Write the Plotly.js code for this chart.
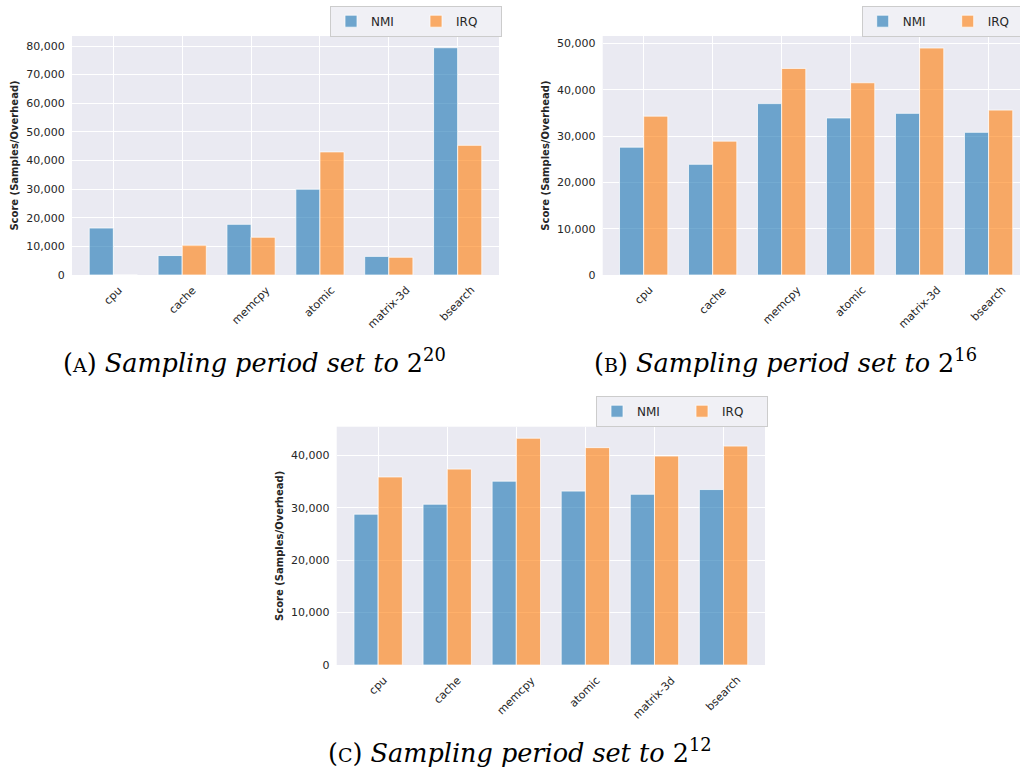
<!DOCTYPE html>
<html><head><meta charset="utf-8">
<script src="https://cdn.plot.ly/plotly-3.0.1.min.js"></script>
<style>body{margin:0;background:#fff;} #chart{width:1020px;height:770px;}</style>
</head><body><div id="chart"></div>
<script>
const categories = ['cpu', 'cache', 'memcpy', 'atomic', 'matrix-3d', 'bsearch'];
const seriesNames = ['NMI', 'IRQ'];
const nmiA = [16400, 6800, 17700, 30000, 6500, 79400];
const irqA = [0, 10400, 13200, 43000, 6200, 45300];
const nmiB = [27600, 23900, 37000, 33900, 34900, 30800];
const irqB = [34300, 28900, 44600, 41500, 49000, 35600];
const nmiC = [28800, 30700, 35100, 33200, 32600, 33500];
const irqC = [35900, 37400, 43300, 41500, 39900, 41800];
const yTitle = 'Score (Samples/Overhead)';
const captionLetters = ['A', 'B', 'C'];
const captionExps = ['20', '16', '12'];

const W = 1020, H = 770;
const px = x => x / W;
const py = y => 1 - y / H;
const colors = ['rgba(31,119,180,0.62)', 'rgba(255,127,14,0.62)'];
const tickFont = {family: 'DejaVu Sans', size: 11, color: '#262626'};

const panels = [
  {nmi: nmiA, irq: irqA, xs: '', x: [72, 499], y: [36, 275], xr: [-0.6, 5.6], yr: [0, 83500], leg: 'legend', legBox: [330, 5.7]},
  {nmi: nmiB, irq: irqB, xs: '2', x: [602.7, 1020], y: [36, 275], xr: [-0.594, 5.455], yr: [0, 51600], leg: 'legend2', legBox: [861.7, 5.7]},
  {nmi: nmiC, irq: irqC, xs: '3', x: [336.7, 765], y: [426.7, 665], xr: [-0.6, 5.6], yr: [0, 45500], leg: 'legend3', legBox: [596, 395.7]}
];
const captionPos = [[254, 361], [785, 361], [520, 751]];

const traces = [];
const layout = {
  width: W, height: H,
  margin: {l: 0, r: 0, t: 0, b: 0, autoexpand: false},
  paper_bgcolor: '#ffffff',
  plot_bgcolor: '#EAEAF2',
  barmode: 'group', bargap: 0.3, bargroupgap: 0,
  showlegend: true,
  annotations: []
};

panels.forEach((p, i) => {
  const xa = 'x' + p.xs, ya = 'y' + p.xs;
  [p.nmi, p.irq].forEach((vals, k) => {
    traces.push({
      type: 'bar', x: categories, y: vals, name: seriesNames[k],
      xaxis: xa, yaxis: ya, legend: p.leg,
      marker: {color: colors[k], line: {color: 'rgba(255,255,255,0.9)', width: 0.8}},
      hoverinfo: 'x+y'
    });
  });
  layout['xaxis' + p.xs] = {
    domain: [px(p.x[0]), px(p.x[1])], anchor: ya, type: 'category',
    range: p.xr, showgrid: true, gridcolor: '#ffffff', gridwidth: 1.2,
    showticklabels: false, ticks: '', zeroline: false, showline: false
  };
  layout['yaxis' + p.xs] = {
    domain: [py(p.y[1]), py(p.y[0])], anchor: xa,
    range: p.yr, dtick: 10000, tickformat: ',d',
    showgrid: true, gridcolor: '#ffffff', gridwidth: 1.2,
    zeroline: false, showline: false,
    ticks: 'outside', ticklen: 4, tickcolor: 'rgba(0,0,0,0)',
    tickfont: tickFont,
    title: {text: yTitle, standoff: 5, font: {family: 'DejaVu Sans', size: 10, color: '#262626', weight: 'bold'}}
  };
  layout[p.leg] = {
    orientation: 'h', x: px(p.legBox[0]), xanchor: 'left', y: py(p.legBox[1]), yanchor: 'top',
    bgcolor: '#F0F0F5', bordercolor: '#CCCCCC', borderwidth: 1,
    font: {family: 'DejaVu Sans', size: 12, color: '#262626'},
    entrywidth: 40, traceorder: 'normal'
  };
  categories.forEach(c => {
    layout.annotations.push({
      x: c, xref: xa, y: 0, yref: ya + ' domain', yshift: -6,
      xanchor: 'center', yanchor: 'top', textangle: -45, showarrow: false,
      text: c, font: tickFont
    });
  });
  layout.annotations.push({
    x: px(captionPos[i][0]), y: py(captionPos[i][1]), xref: 'paper', yref: 'paper',
    xanchor: 'center', yanchor: 'middle', showarrow: false,
    text: '(<span style="font-size:19px">' + captionLetters[i] + '</span>) <i>Sampling period set to</i> 2<sup>' + captionExps[i] + '</sup>',
    font: {family: 'DejaVu Serif', size: 25.5, color: '#000000'}
  });
});

Plotly.newPlot('chart', traces, layout, {displayModeBar: false});
</script>
</body></html>
